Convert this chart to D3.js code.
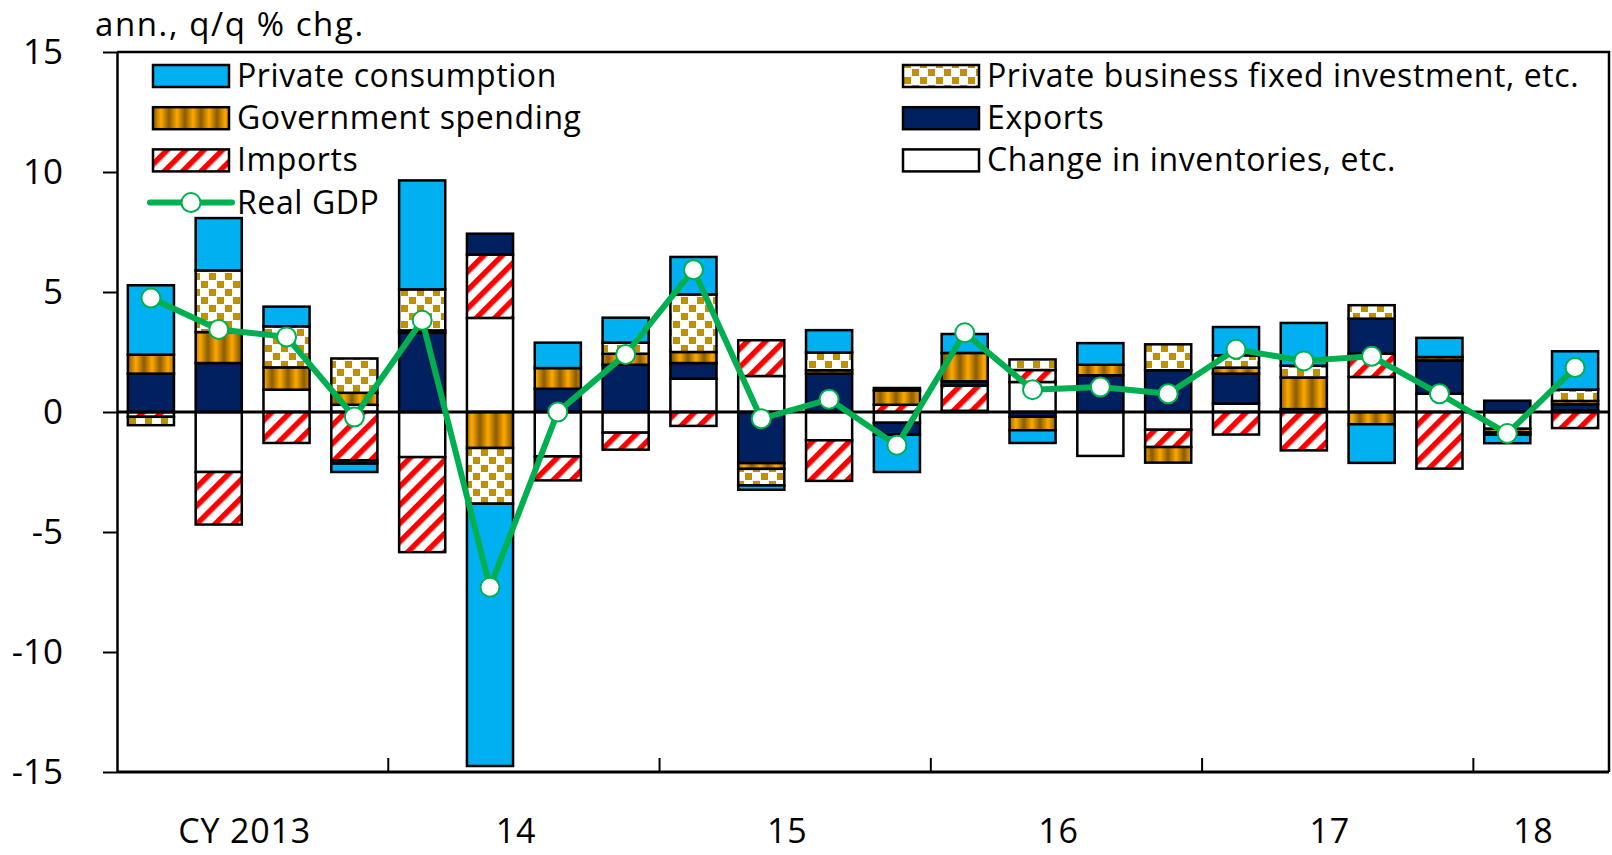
<!DOCTYPE html>
<html>
<head>
<meta charset="utf-8">
<script src="https://cdn.jsdelivr.net/npm/d3@7"></script>
<style>
  html, body { margin: 0; padding: 0; background: #fff; }
  text { font-family: "Open Sans", "Noto Sans", sans-serif; fill: #000; }
</style>
</head>
<body>
<script>
// quarters CY2013 Q1 .. CY2018 Q2
const quarters = [
  "13Q1", "13Q2", "13Q3", "13Q4", "14Q1", "14Q2", "14Q3", "14Q4",
  "15Q1", "15Q2", "15Q3", "15Q4", "16Q1", "16Q2", "16Q3", "16Q4",
  "17Q1", "17Q2", "17Q3", "17Q4", "18Q1", "18Q2"
];
const yearLabels = ["CY 2013", "14", "15", "16", "17", "18"];
const yTicks = [-15, -10, -5, 0, 5, 10, 15];

// contributions, % points (series order = stacking order)
const inventories = [0, -2.5, 0.93, 0.3, -1.88, 3.92, -1.85, -0.86, 1.39, 1.5, -1.18, -0.45, 0.05, 1.25, -1.83, -0.74, 0.35, 0.12, 1.46, 0.76, -0.7, 0.07];
const imports = [-0.2, -2.19, -1.29, -2.01, -3.96, 2.64, -1.0, -0.71, -0.58, 1.49, -1.69, 0.3, 1.05, 0.5, 0, -0.72, -0.94, -1.6, 0.97, -2.36, 0, -0.67];
const exportsC = [1.6, 2.04, 0, -0.14, 3.3, 0.87, 0.97, 1.97, 0.65, -2.13, 1.6, -0.5, 0.18, -0.2, 1.53, 1.74, 1.25, 0, 1.46, 1.39, 0.47, 0.25];
const government = [0.79, 1.29, 0.93, 0.5, 0.1, -1.5, 0.86, 0.46, 0.46, -0.24, 0.14, 0.6, 1.18, -0.56, 0.44, -0.65, 0.25, 1.32, -0.51, 0.14, -0.15, 0.14];
const business = [-0.35, 2.57, 1.71, 1.43, 1.71, -2.32, 0, 0.46, 2.4, -0.69, 0.74, 0.1, 0, 0.44, 0, 1.08, 0.51, 0.49, 0.56, 0, -0.1, 0.47];
const consumption = [2.89, 2.18, 0.82, -0.35, 4.54, -10.93, 1.06, 1.04, 1.56, -0.18, 0.93, -1.55, 0.79, -0.53, 0.9, 0, 1.18, 1.78, -1.61, 0.8, -0.35, 1.6];
const realGdp = [4.75, 3.44, 3.13, -0.21, 3.82, -7.3, 0.0, 2.4, 5.93, -0.28, 0.53, -1.39, 3.3, 0.93, 1.04, 0.76, 2.61, 2.13, 2.32, 0.76, -0.9, 1.85];

const W = 1612;
const H = 855;
const PLOT = { left: 117, right: 1609, top: 52, bottom: 772 };
const FONT_TICK = 35;
const FONT_LEGEND = 32;
const GREEN = "#00B050";

const keys = ["inv", "imp", "exp", "gov", "bus", "pc"];
const rows = quarters.map((q, i) => ({
  q,
  inv: inventories[i],
  imp: imports[i],
  exp: exportsC[i],
  gov: government[i],
  bus: business[i],
  pc: consumption[i],
}));

const svg = d3.select("body").append("svg").attr("width", W).attr("height", H);
const defs = svg.append("defs");

// government: vertical cylinder-like gold stripes
const grad = defs.append("linearGradient").attr("id", "gov-grad").attr("x1", 0).attr("x2", 1).attr("y1", 0).attr("y2", 0);
grad.append("stop").attr("offset", "0%").attr("stop-color", "#8a5c00");
grad.append("stop").attr("offset", "50%").attr("stop-color", "#ffa800");
grad.append("stop").attr("offset", "100%").attr("stop-color", "#8a5c00");
defs.append("pattern").attr("id", "pat-gov").attr("patternUnits", "userSpaceOnUse")
  .attr("width", 16).attr("height", 8)
  .append("rect").attr("width", 16).attr("height", 8).attr("fill", "url(#gov-grad)");

// business investment: gold confetti squares
const bus = defs.append("pattern").attr("id", "pat-bus").attr("patternUnits", "userSpaceOnUse")
  .attr("width", 16).attr("height", 16);
bus.append("rect").attr("width", 16).attr("height", 16).attr("fill", "#fff");
bus.append("rect").attr("x", 1).attr("y", 1).attr("width", 7).attr("height", 7).attr("fill", "#bf9000");
bus.append("rect").attr("x", 9).attr("y", 9).attr("width", 7).attr("height", 7).attr("fill", "#bf9000");

// imports: red upward diagonal stripes
const imp = defs.append("pattern").attr("id", "pat-imp").attr("patternUnits", "userSpaceOnUse")
  .attr("width", 13).attr("height", 13).attr("patternTransform", "rotate(45)");
imp.append("rect").attr("width", 13).attr("height", 13).attr("fill", "#fff");
imp.append("rect").attr("width", 5.5).attr("height", 13).attr("fill", "#ff0000");

const fills = {
  inv: "#ffffff",
  imp: "url(#pat-imp)",
  exp: "#002060",
  gov: "url(#pat-gov)",
  bus: "url(#pat-bus)",
  pc: "#00b0f0",
};

const x = d3.scaleBand().domain(quarters).range([PLOT.left, PLOT.right]).paddingInner(0.32).paddingOuter(0.16);
const y = d3.scaleLinear().domain([-15, 15]).range([PLOT.bottom, PLOT.top]);

const series = d3.stack().keys(keys).offset(d3.stackOffsetDiverging)(rows);

// bars
svg.append("g")
  .selectAll("g")
  .data(series)
  .join("g")
  .attr("fill", (s) => fills[s.key])
  .selectAll("rect")
  .data((s) => s.filter((d) => d[1] - d[0] !== 0))
  .join("rect")
  .attr("x", (d) => x(d.data.q))
  .attr("width", x.bandwidth())
  .attr("y", (d) => y(d[1]))
  .attr("height", (d) => y(d[0]) - y(d[1]))
  .attr("stroke", "#000")
  .attr("stroke-width", 2.5);

// y axis
const yAxis = svg.append("g")
  .attr("transform", `translate(${PLOT.left},0)`)
  .call(d3.axisLeft(y).tickValues(yTicks).tickSize(14).tickSizeOuter(0).tickPadding(40).tickFormat((d) => String(d)));
yAxis.select(".domain").attr("stroke-width", 2.5);
yAxis.selectAll(".tick line").attr("stroke-width", 2);
yAxis.selectAll(".tick text").attr("font-size", FONT_TICK).attr("font-family", null);

// frame top / right
svg.append("path")
  .attr("d", `M${PLOT.left},${PLOT.top}H${PLOT.right}V${PLOT.bottom}`)
  .attr("fill", "none").attr("stroke", "#000").attr("stroke-width", 2.5);

// bottom axis + year ticks
svg.append("line")
  .attr("x1", PLOT.left).attr("x2", PLOT.right)
  .attr("y1", PLOT.bottom).attr("y2", PLOT.bottom)
  .attr("stroke", "#000").attr("stroke-width", 3);

const half = (x.step() * x.paddingInner()) / 2;
const yearStarts = quarters.filter((q) => q.endsWith("Q1"));
svg.append("g")
  .selectAll("line")
  .data(yearStarts.slice(1))
  .join("line")
  .attr("x1", (q) => x(q) - half).attr("x2", (q) => x(q) - half)
  .attr("y1", PLOT.bottom - 14).attr("y2", PLOT.bottom)
  .attr("stroke", "#000").attr("stroke-width", 2);

svg.append("g")
  .selectAll("text")
  .data(yearLabels)
  .join("text")
  .attr("x", (d, i) => {
    const qs = quarters.filter((q) => q.startsWith(yearStarts[i].slice(0, 2)));
    return (x(qs[0]) + x(qs[qs.length - 1]) + x.bandwidth()) / 2 - 8;
  })
  .attr("y", 843)
  .attr("text-anchor", "middle")
  .attr("font-size", 34)
  .attr("letter-spacing", 0.8)
  .text((d) => d);

// zero line
svg.append("line")
  .attr("x1", PLOT.left).attr("x2", PLOT.right)
  .attr("y1", y(0)).attr("y2", y(0))
  .attr("stroke", "#000").attr("stroke-width", 3);

// real GDP line
const line = d3.line().x((d, i) => x(quarters[i]) + x.bandwidth() / 2).y((d) => y(d));
svg.append("path")
  .datum(realGdp)
  .attr("d", line)
  .attr("fill", "none")
  .attr("stroke", GREEN)
  .attr("stroke-width", 6)
  .attr("stroke-linejoin", "round");
svg.append("g")
  .selectAll("circle")
  .data(realGdp)
  .join("circle")
  .attr("cx", (d, i) => x(quarters[i]) + x.bandwidth() / 2)
  .attr("cy", (d) => y(d))
  .attr("r", 9.5)
  .attr("fill", "#fff")
  .attr("stroke", GREEN)
  .attr("stroke-width", 2);

// unit label
svg.append("text").attr("x", 95).attr("y", 36).attr("font-size", 33).attr("letter-spacing", 1.6).text("ann., q/q % chg.");

// legend
const legendItems = [
  { key: "pc", label: "Private consumption", col: 0, row: 0 },
  { key: "gov", label: "Government spending", col: 0, row: 1 },
  { key: "imp", label: "Imports", col: 0, row: 2 },
  { key: "gdp", label: "Real GDP", col: 0, row: 3 },
  { key: "bus", label: "Private business fixed investment, etc.", col: 1, row: 0 },
  { key: "exp", label: "Exports", col: 1, row: 1 },
  { key: "inv", label: "Change in inventories, etc.", col: 1, row: 2 },
];
const LEGEND_X = [153, 903];
const LEGEND_Y0 = 76;
const LEGEND_DY = 42.2;
const SW_W = 76;
const SW_H = 22;

const legend = svg.append("g")
  .selectAll("g")
  .data(legendItems)
  .join("g")
  .attr("transform", (d) => `translate(${LEGEND_X[d.col]},${LEGEND_Y0 + d.row * LEGEND_DY})`);

legend.filter((d) => d.key !== "gdp")
  .append("rect")
  .attr("y", -SW_H / 2)
  .attr("width", SW_W)
  .attr("height", SW_H)
  .attr("fill", (d) => fills[d.key])
  .attr("stroke", "#000")
  .attr("stroke-width", 2.5);

const gdpKey = legend.filter((d) => d.key === "gdp");
gdpKey.append("line")
  .attr("x1", -3).attr("x2", 79)
  .attr("stroke", GREEN).attr("stroke-width", 6).attr("stroke-linecap", "round");
gdpKey.append("circle")
  .attr("cx", 38).attr("r", 9.5)
  .attr("fill", "#fff").attr("stroke", GREEN).attr("stroke-width", 2);

legend.append("text")
  .attr("x", SW_W + 8)
  .attr("y", 11)
  .attr("font-size", FONT_LEGEND)
  .attr("letter-spacing", 0.6)
  .text((d) => d.label);
</script>
</body>
</html>
